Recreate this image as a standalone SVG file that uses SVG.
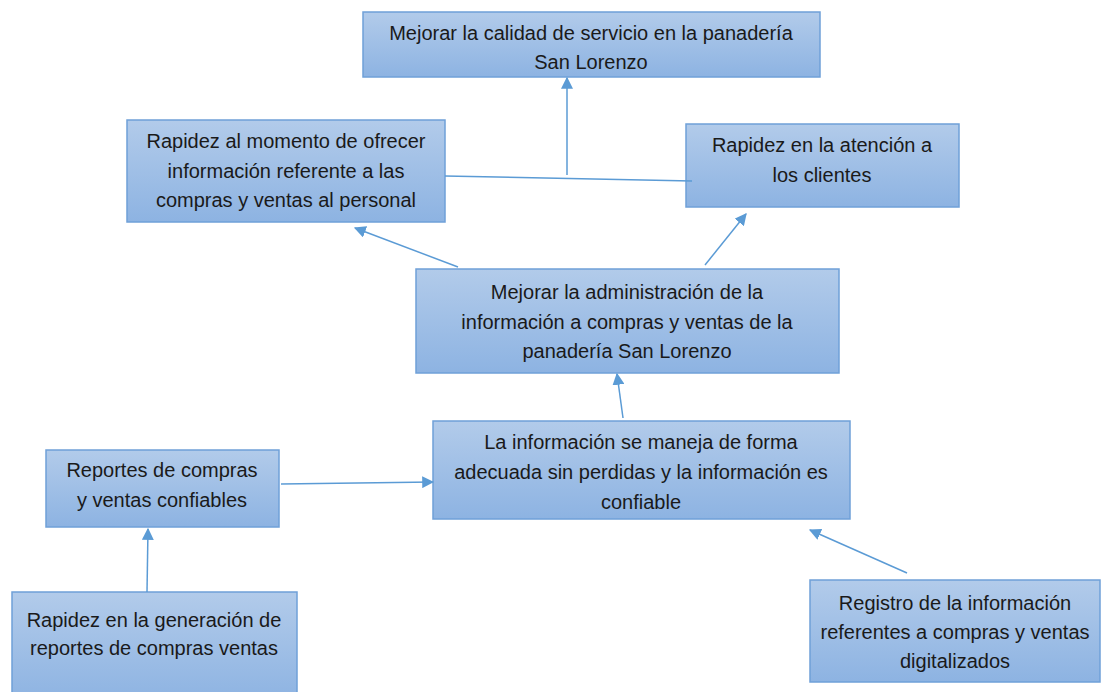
<svg xmlns="http://www.w3.org/2000/svg" width="1102" height="692" viewBox="0 0 1102 692">
<defs>
<linearGradient id="g" x1="0" y1="0" x2="0" y2="1">
<stop offset="0" stop-color="#b2cbea"/>
<stop offset="1" stop-color="#8db3e2"/>
</linearGradient>
<marker id="ah" viewBox="0 0 10 10" refX="9" refY="5" markerWidth="12" markerHeight="12" orient="auto" markerUnits="userSpaceOnUse">
<path d="M0,0 L10,5 L0,10 z" fill="#5b9bd5"/>
</marker>
</defs>
<style>
.box{fill:url(#g);stroke:#6fa0d8;stroke-width:1.5}
.t{font-family:"Liberation Sans",Arial,sans-serif;font-size:20px;fill:#1a1a1a;text-anchor:middle}
.c{stroke:#5b9bd5;stroke-width:1.5;fill:none}
</style>
<rect width="1102" height="692" fill="#ffffff"/>
<g id="n1"><rect class="box" x="363" y="12" width="457" height="65"/>
<text class="t" x="591" y="40">Mejorar la calidad de servicio en la panadería</text>
<text class="t" x="591" y="69">San Lorenzo</text></g>
<g id="n2"><rect class="box" x="127" y="120" width="318" height="102"/>
<text class="t" x="286" y="148">Rapidez al momento de ofrecer</text>
<text class="t" x="286" y="178">información referente a las</text>
<text class="t" x="286" y="207">compras y ventas al personal</text></g>
<g id="n3"><rect class="box" x="686" y="124" width="273" height="83"/>
<text class="t" x="822" y="152">Rapidez en la atención a</text>
<text class="t" x="822" y="182">los clientes</text></g>
<g id="n4"><rect class="box" x="416" y="269" width="423" height="104"/>
<text class="t" x="627" y="299">Mejorar la administración de la</text>
<text class="t" x="627" y="329">información a compras y ventas de la</text>
<text class="t" x="627" y="358">panadería San Lorenzo</text></g>
<g id="n5"><rect class="box" x="433" y="421" width="417" height="98"/>
<text class="t" x="641" y="449">La información se maneja de forma</text>
<text class="t" x="641" y="479">adecuada sin perdidas y la información es</text>
<text class="t" x="641" y="509">confiable</text></g>
<g id="n6"><rect class="box" x="46" y="450" width="233" height="77"/>
<text class="t" x="162" y="477">Reportes de compras</text>
<text class="t" x="162" y="507">y ventas confiables</text></g>
<g id="n7"><rect class="box" x="12" y="592" width="285" height="110"/>
<text class="t" x="154" y="627">Rapidez en la generación de</text>
<text class="t" x="154" y="655">reportes de compras ventas</text></g>
<g id="n8"><rect class="box" x="810" y="580" width="290" height="102"/>
<text class="t" x="955" y="610">Registro de la información</text>
<text class="t" x="955" y="639">referentes a compras y ventas</text>
<text class="t" x="955" y="668">digitalizados</text></g>
<g id="connectors">
<line class="c" x1="445" y1="176" x2="692" y2="181"/>
<line class="c" x1="567" y1="175" x2="567" y2="78" marker-end="url(#ah)"/>
<line class="c" x1="458" y1="267" x2="355" y2="228" marker-end="url(#ah)"/>
<line class="c" x1="705" y1="265" x2="746" y2="214" marker-end="url(#ah)"/>
<line class="c" x1="623" y1="418" x2="617" y2="374" marker-end="url(#ah)"/>
<line class="c" x1="281" y1="484" x2="433" y2="482" marker-end="url(#ah)"/>
<line class="c" x1="147" y1="592" x2="148" y2="529" marker-end="url(#ah)"/>
<line class="c" x1="907" y1="573" x2="810" y2="530" marker-end="url(#ah)"/>
</g>
</svg>
